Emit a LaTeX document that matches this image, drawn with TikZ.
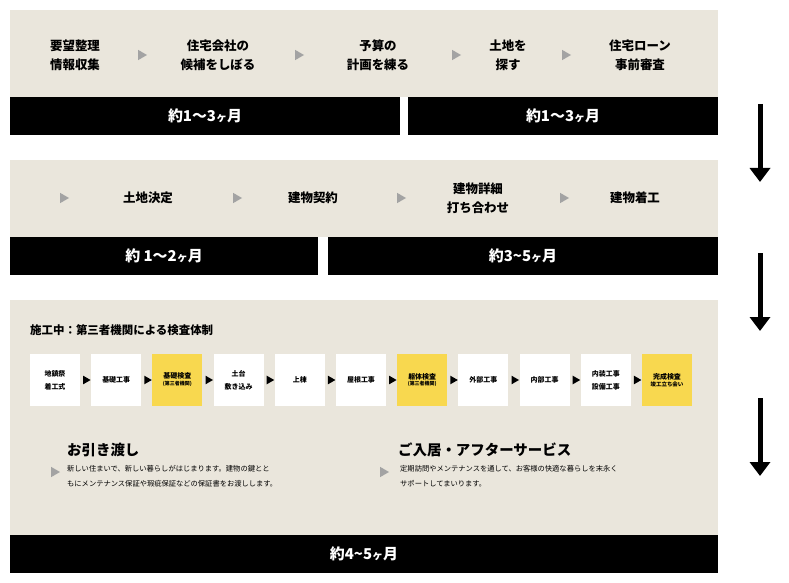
\documentclass[tikz,border=0pt]{standalone}
\usepackage{fontspec}
\setmainfont{Noto Sans CJK JP}
\usetikzlibrary{shapes.geometric,arrows.meta,calc}
\begin{document}
\begin{tikzpicture}[x=1bp,y=-1bp,
  panel/.style={fill=beige,draw=none},
  bar/.style={fill=black,draw=none},
  bartext/.style={text=white,font=\bfseries\fontsize{15}{17}\selectfont},
  head/.style={align=center,font=\bfseries\fontsize{12.5}{19}\selectfont},
  gtri/.style={fill=gtricol,draw=none,regular polygon,regular polygon sides=3,shape border rotate=-90,inner sep=0pt,minimum size=12bp},
  btri/.style={fill=black,draw=none,regular polygon,regular polygon sides=3,shape border rotate=-90,inner sep=0pt,minimum size=10bp},
  stepbox/.style={fill=white,draw=none,minimum width=50bp,minimum height=52bp,align=center,font=\bfseries\fontsize{7}{13}\selectfont,inner sep=0pt},
  yelbox/.style={stepbox,fill=yel},
  small/.style={font=\fontsize{7.3}{15.5}\selectfont,align=left,anchor=north west,inner sep=0pt},
  sec/.style={font=\bfseries\fontsize{14.5}{17}\selectfont,anchor=west,inner sep=0pt},
  down/.style={line width=5bp,-{Triangle[length=14bp,width=20bp]}}
]
\definecolor{beige}{HTML}{EAE6DC}
\definecolor{yel}{HTML}{F8D84F}
\definecolor{gtricol}{HTML}{A3A3A3}
\useasboundingbox (0,0) rectangle (789,583);
% panel 1
\fill[panel] (10,10) rectangle (718,97);
\fill[bar] (10,97) rectangle (400,135);
\fill[bar] (408,97) rectangle (718,135);
\node[head] (a1) at (75,55) {要望整理\\情報収集};
\node[gtri] (t1) at (141,55) {};
\node[head] (a2) at (218,55) {住宅会社の\\候補をしぼる};
\node[gtri] (t2) at (298,55) {};
\node[head] (a3) at (378,55) {予算の\\計画を練る};
\node[gtri] (t3) at (455,55) {};
\node[head] (a4) at (508,55) {土地を\\探す};
\node[gtri] (t4) at (565,55) {};
\node[head] (a5) at (640,55) {住宅ローン\\事前審査};
\node[bartext] (b1) at (205,116) {約1〜3{\fontsize{11}{12}\selectfont ヶ}月};
\node[bartext] (b2) at (563,116) {約1〜3{\fontsize{11}{12}\selectfont ヶ}月};
% panel 2
\fill[panel] (10,160) rectangle (718,237);
\fill[bar] (10,237) rectangle (318,275);
\fill[bar] (328,237) rectangle (718,275);
\node[gtri] (u1) at (63,198) {};
\node[head] (c1) at (148,198) {土地決定};
\node[gtri] (u2) at (236,198) {};
\node[head] (c2) at (313,198) {建物契約};
\node[gtri] (u3) at (400,198) {};
\node[head] (c3) at (478,198) {建物詳細\\打ち合わせ};
\node[gtri] (u4) at (563,198) {};
\node[head] (c4) at (635,198) {建物着工};
\node[bartext] (b3) at (164,256) {約 1〜2{\fontsize{11}{12}\selectfont ヶ}月};
\node[bartext] (b4) at (523,256) {約3\textasciitilde5{\fontsize{11}{12}\selectfont ヶ}月};
% panel 3
\fill[panel] (10,300) rectangle (718,535);
\fill[bar] (10,535) rectangle (718,573);
\node[font=\bfseries\fontsize{11.5}{13}\selectfont,anchor=west,inner sep=0pt] (title) at (30,330) {施工中：第三者機関による検査体制};
\node[stepbox] (s1) at (55,380) {地鎮祭\\着工式};
\node[stepbox] (s2) at (116.2,380) {基礎工事};
\node[yelbox] (s3) at (177.4,380) {基礎検査\\[-6bp]{\fontsize{5}{6}\selectfont (第三者機関)}};
\node[stepbox] (s4) at (238.6,380) {土台\\敷き込み};
\node[stepbox] (s5) at (299.8,380) {上棟};
\node[stepbox] (s6) at (361,380) {屋根工事};
\node[yelbox] (s7) at (422.2,380) {躯体検査\\[-6bp]{\fontsize{5}{6}\selectfont (第三者機関)}};
\node[stepbox] (s8) at (483.4,380) {外部工事};
\node[stepbox] (s9) at (544.6,380) {内部工事};
\node[stepbox] (s10) at (605.8,380) {内装工事\\設備工事};
\node[yelbox] (s11) at (667,380) {完成検査\\[-6bp]{\fontsize{5.5}{6}\selectfont 竣工立ち会い}};
\foreach \i/\j in {1/2,2/3,3/4,4/5,5/6,6/7,7/8,8/9,9/10,10/11}
  \node[btri] (k\i) at ($(s\i)!0.5!(s\j)$) {};
\node[sec] (h1) at (67,450) {お引き渡し};
\node[gtri] (g1) at (54,472) {};
\node[small] (p1) at (67,465) {新しい住まいで、新しい暮らしがはじまります。建物の鍵とと\\もにメンテナンス保証や瑕疵保証などの保証書をお渡しします。};
\node[sec] (h2) at (398,450) {ご入居・アフターサービス};
\node[gtri] (g2) at (383,472) {};
\node[small] (p2) at (400,465) {定期訪問やメンテナンスを通して、お客様の快適な暮らしを末永く\\サポートしてまいります。};
\node[bartext] (b5) at (364,554) {約4\textasciitilde5{\fontsize{11}{12}\selectfont ヶ}月};
% arrows
\coordinate (r1) at (760,104); \coordinate (r2) at (760,182);
\coordinate (r3) at (760,253); \coordinate (r4) at (760,331);
\coordinate (r5) at (760,398); \coordinate (r6) at (760,476);
\draw[down] (r1) -- (r2);
\draw[down] (r3) -- (r4);
\draw[down] (r5) -- (r6);
\end{tikzpicture}
\end{document}
